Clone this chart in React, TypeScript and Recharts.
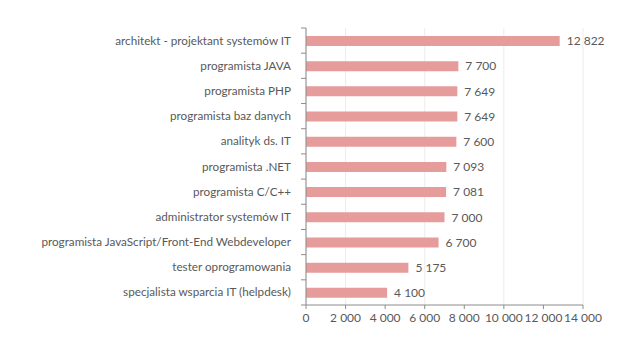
import { BarChart, Bar, XAxis, YAxis, CartesianGrid, LabelList } from "recharts";

const jobs = [
  "architekt - projektant systemów IT",
  "programista JAVA",
  "programista PHP",
  "programista baz danych",
  "analityk ds. IT",
  "programista .NET",
  "programista C/C++",
  "administrator systemów IT",
  "programista JavaScript/Front-End Webdeveloper",
  "tester oprogramowania",
  "specjalista wsparcia IT (helpdesk)",
];

const salaries = [12822, 7700, 7649, 7649, 7600, 7093, 7081, 7000, 6700, 5175, 4100];

const xTicks = [0, 2000, 4000, 6000, 8000, 10000, 12000, 14000];

const data = jobs.map((job, i) => ({ job, salary: salaries[i] }));

const W = 630;
const H = 354;
const TOP = 28;
const BOTTOM = 17;
const X_AXIS_H = 32;
const Y_AXIS_W = 306;
const BAND = (H - TOP - BOTTOM - X_AXIS_H) / jobs.length;

const TEXT = "#595959";
const AXIS = "#8c8c8c";
const FONT = "Lato, sans-serif";

const fmt = (v: number) => String(v).replace(/\B(?=(\d{3})+(?!\d))/g, " ");

function JobTick(props: any) {
  const { y, payload, index } = props;
  const ax = Y_AXIS_W;
  return (
    <g>
      <line x1={ax - 5} x2={ax} y1={y - BAND / 2} y2={y - BAND / 2} stroke={AXIS} />
      {index === jobs.length - 1 && (
        <line x1={ax - 5} x2={ax} y1={y + BAND / 2} y2={y + BAND / 2} stroke={AXIS} />
      )}
      <text x={ax - 15} y={y} dy={4} textAnchor="end" fill={TEXT} fontSize={11.7} fontFamily={FONT}>
        {payload.value}
      </text>
    </g>
  );
}

export default function App() {
  return (
    <div style={{ position: "absolute", left: 0, top: 0, background: "#fff" }}>
      <BarChart
        width={W}
        height={H}
        data={data}
        layout="vertical"
        barSize={10}
        margin={{ top: TOP, right: 47, bottom: BOTTOM, left: 0 }}
      >
        <CartesianGrid horizontal={false} stroke="#ececec" />
        <XAxis
          type="number"
          domain={[0, 14000]}
          ticks={xTicks}
          tickFormatter={fmt}
          height={X_AXIS_H}
          stroke={AXIS}
          tickSize={4}
          tickMargin={4}
          tick={{ fill: TEXT, fontSize: 12, fontFamily: FONT }}
        />
        <YAxis
          type="category"
          dataKey="job"
          width={Y_AXIS_W}
          stroke={AXIS}
          tickLine={false}
          tick={<JobTick />}
          interval={0}
        />
        <Bar dataKey="salary" fill="#e69c9b" isAnimationActive={false}>
          <LabelList
            dataKey="salary"
            position="right"
            offset={7}
            formatter={(v: any) => fmt(v)}
            fill={TEXT}
            fontSize={12}
            fontFamily={FONT}
          />
        </Bar>
      </BarChart>
    </div>
  );
}
